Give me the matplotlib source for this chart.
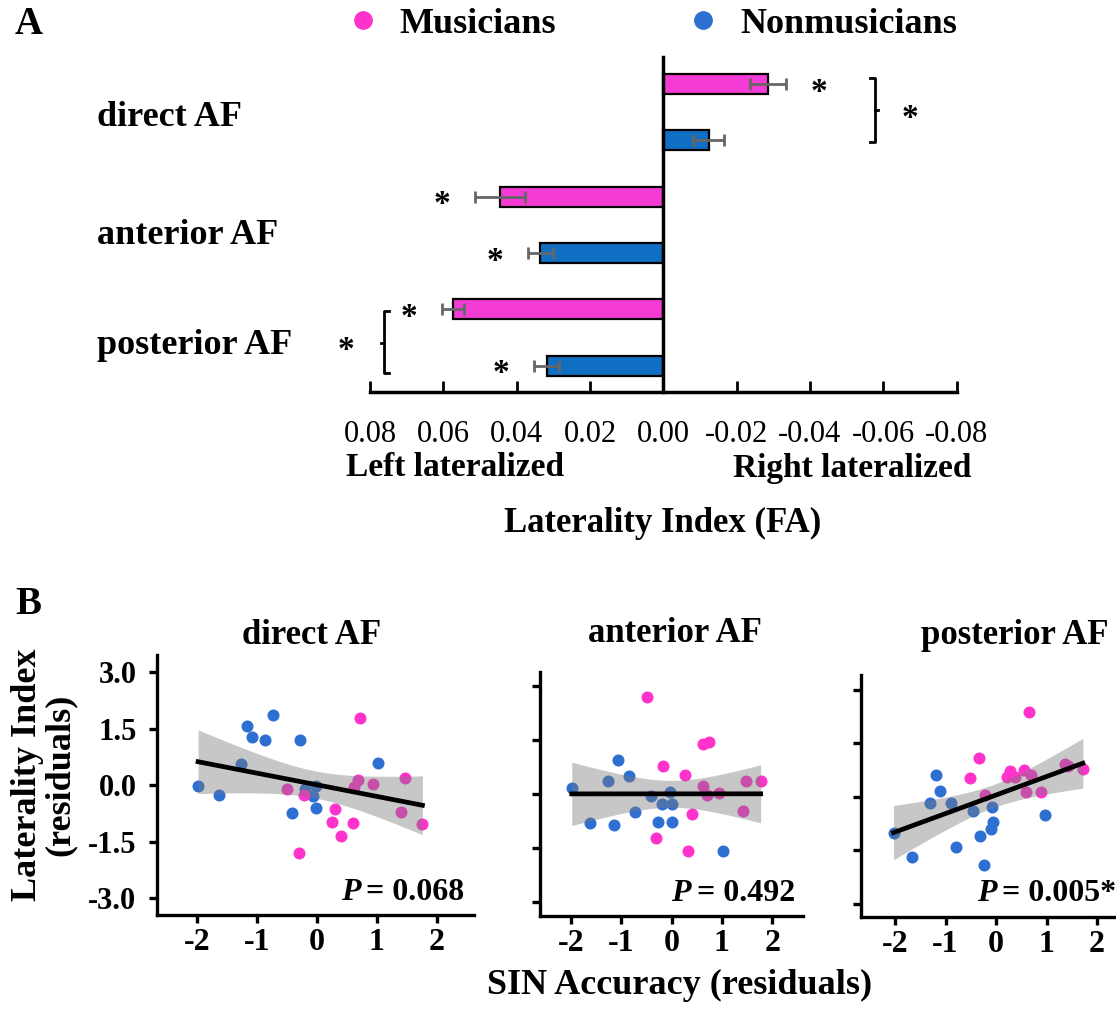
import numpy as np
import matplotlib
matplotlib.use("Agg")
import matplotlib.pyplot as plt
from matplotlib.lines import Line2D

# ---- panel A data (laterality index, FA) ----
regions = ["direct AF", "anterior AF", "posterior AF"]
li_mus = [-0.0286, 0.0445, 0.0573]
li_mus_err = [0.0049, 0.0069, 0.0030]
li_non = [-0.0124, 0.0336, 0.0318]
li_non_err = [0.0042, 0.0034, 0.0034]
sig_mus = [True, True, True]
sig_non = [False, True, True]
li_ticks = [0.08, 0.06, 0.04, 0.02, 0.00, -0.02, -0.04, -0.06, -0.08]

# ---- panel B data (residuals) ----
dir_mus_x = [0.72, -0.49, -0.21, -0.29, 0.31, 0.26, 0.40, 0.61, 0.62, 0.69, 0.94, 1.47, 1.41, 1.76]
dir_mus_y = [1.77, -0.11, -0.26, -1.81, -0.63, -0.97, -1.35, -0.99, -0.04, 0.15, 0.03, 0.18, -0.71, -1.04]
dir_non_x = [-1.98, -1.63, -1.27, -1.16, -1.08, -0.86, -0.73, -0.28, -0.42, -0.19, -0.02, -0.06, -0.02, 1.02]
dir_non_y = [-0.03, -0.25, 0.57, 1.57, 1.28, 1.20, 1.87, 1.21, -0.75, -0.11, -0.03, -0.29, -0.60, 0.59]

ant_mus_x = [-0.48, -0.17, -0.30, 0.27, 0.41, 0.33, 0.63, 0.74, 0.62, 0.71, 0.94, 1.48, 1.42, 1.77]
ant_mus_y = [2.70, 0.78, -1.21, 0.54, -0.56, -1.58, 1.40, 1.45, 0.23, -0.03, 0.02, 0.35, -0.46, 0.37]
ant_non_x = [-1.98, -1.62, -1.14, -1.26, -1.07, -0.85, -0.73, -0.41, -0.27, -0.18, -0.03, 0.00, 0.00, 1.03]
ant_non_y = [0.16, -0.79, -0.86, 0.37, 0.94, 0.50, -0.50, -0.05, -0.78, -0.29, 0.06, -0.27, -0.77, -1.58]

pos_mus_x = [0.65, -0.33, -0.52, -0.22, 0.21, 0.28, 0.38, 0.56, 0.69, 0.59, 0.90, 1.37, 1.43, 1.72]
pos_mus_y = [2.36, 1.09, 0.53, 0.05, 0.56, 0.73, 0.56, 0.75, 0.61, 0.12, 0.12, 0.92, 0.86, 0.77]
pos_non_x = [-2.03, -1.67, -1.19, -1.11, -1.31, -0.90, -0.79, -0.46, -0.31, -0.23, -0.07, -0.05, -0.09, 0.98]
pos_non_y = [-1.01, -1.69, 0.61, 0.16, -0.19, -0.19, -1.42, -0.40, -1.10, -1.91, -0.28, -0.70, -0.90, -0.51]

p_labels = ["= 0.068", "= 0.492", "= 0.005*"]
res_yticks = [3.0, 1.5, 0.0, -1.5, -3.0]
res_xticks = [-2, -1, 0, 1, 2]

MAG = "#F53BD5"
BLU = "#106EC3"
MAG_PT = "#FF33CC"
BLU_PT = "#2E6FD2"

plt.rcParams["font.family"] = ["Liberation Serif", "DejaVu Serif"]
plt.rcParams["font.weight"] = "bold"
plt.rcParams["mathtext.default"] = "regular"

W, H = 1116, 1010
fig = plt.figure(figsize=(W / 100, H / 100), dpi=100)


def box(l, r, t, b):
    return [l / W, 1 - b / H, (r - l) / W, (b - t) / H]


# ================= panel A =================
axA = fig.add_axes(box(370, 956.6, 56.7, 392))
y_mus = np.arange(3) * 2
y_non = y_mus + 1
bh = 0.355
axA.barh(y_mus, li_mus, height=bh, color=MAG, edgecolor="black", linewidth=1.6, zorder=2)
axA.barh(y_non, li_non, height=bh, color=BLU, edgecolor="black", linewidth=1.6, zorder=2)
axA.errorbar(li_mus, y_mus, xerr=li_mus_err, fmt="none", ecolor="#666666",
             elinewidth=2, capsize=4, capthick=2, zorder=3)
axA.errorbar(li_non, y_non, xerr=li_non_err, fmt="none", ecolor="#666666",
             elinewidth=2, capsize=4, capthick=2, zorder=3)
axA.set_xlim(0.08, -0.08)
axA.set_ylim(5.47, -0.485)
for s in ["top", "right"]:
    axA.spines[s].set_visible(False)
axA.spines["left"].set_position(("data", 0))
axA.spines["left"].set_linewidth(2.5)
axA.spines["bottom"].set_linewidth(2.5)
axA.set_yticks([])
axA.set_xticks(li_ticks)
axA.set_xticklabels(["%.2f" % t for t in li_ticks], fontweight="normal")
axA.tick_params(axis="x", direction="in", length=8, width=2, pad=20, labelsize=22)

# significance stars
for vals, errs, ys, sig in [(li_mus, li_mus_err, y_mus, sig_mus),
                            (li_non, li_non_err, y_non, sig_non)]:
    for v, e, y, s in zip(vals, errs, ys, sig):
        if s:
            xs = v + np.sign(v) * (e + 0.009)
            axA.annotate("*", xy=(xs, y), xytext=(0, -6), textcoords="offset points",
                         ha="center", va="center", fontsize=24, annotation_clip=False)

# brackets
bx = -0.0578
axA.plot([bx + 0.0013, bx, bx, bx + 0.0013], [-0.10, -0.10, 1.025, 1.025],
         color="black", lw=2, clip_on=False)
axA.plot([bx, bx - 0.0007], [0.46, 0.46], color="black", lw=2, clip_on=False)
axA.annotate("*", xy=(-0.0673, 0.46), xytext=(0, -6), textcoords="offset points",
             ha="center", va="center", fontsize=24, annotation_clip=False)
px = 0.0762
axA.plot([px - 0.0013, px, px, px - 0.0013], [4.04, 4.04, 5.14, 5.14],
         color="black", lw=2, clip_on=False)
axA.plot([px, px + 0.0007], [4.6, 4.6], color="black", lw=2, clip_on=False)
axA.annotate("*", xy=(0.0866, 4.58), xytext=(0, -6), textcoords="offset points",
             ha="center", va="center", fontsize=24, annotation_clip=False)

# category labels
for lab, yy in zip(regions, [118, 235, 345]):
    fig.text(97 / W, 1 - yy / H, lab, ha="left", va="center", fontsize=26)

fig.text(455 / W, 1 - 468 / H, "Left lateralized", ha="center", va="center", fontsize=24)
fig.text(852 / W, 1 - 468 / H, "Right lateralized", ha="center", va="center", fontsize=24)
fig.text(663 / W, 1 - 523 / H, "Laterality Index (FA)", ha="center", va="center", fontsize=25)

handles = [Line2D([], [], marker="o", ls="", color=MAG_PT, markersize=12.5),
           Line2D([], [], marker="o", ls="", color=BLU_PT, markersize=12.5)]
fig.legend(handles, ["Musicians", "Nonmusicians"], ncol=2, loc="center left",
           bbox_to_anchor=(344.7 / W, 1 - 24 / H), frameon=False, handlelength=1,
           handletextpad=0.515, columnspacing=3.58, borderpad=0, borderaxespad=0,
           prop=dict(size=26, weight="bold"))

fig.text(15 / W, 1 - 25 / H, "A", ha="left", va="center", fontsize=28)
fig.text(15 / W, 1 - 605 / H, "B", ha="left", va="center", fontsize=28)

# ================= panel B =================
panels = [
    ("direct AF", dir_mus_x, dir_mus_y, dir_non_x, dir_non_y,
     box(157.3, 474, 655, 915), (-2.66, 2.62), (-3.44, 3.45), (312, 635), (0.41, -2.85)),
    ("anterior AF", ant_mus_x, ant_mus_y, ant_non_x, ant_non_y,
     box(540, 802.5, 671.7, 916), (-2.61, 2.60), (-3.38, 3.39), (675, 633), (0.0, -2.75)),
    ("posterior AF", pos_mus_x, pos_mus_y, pos_non_x, pos_non_y,
     box(860.7, 1128.3, 675, 917.3), (-2.68, 2.62), (-3.38, 3.41), (1015, 635), (-0.38, -2.70)),
]

T_CRIT = 2.056  # t(0.975, df=26)

for i, (title, mx, my, nx, ny, rect, xl, yl, tpos, ppos) in enumerate(panels):
    ax = fig.add_axes(rect)
    ax.scatter(nx, ny, s=75, color=BLU_PT, linewidths=0, zorder=1)
    ax.scatter(mx, my, s=75, color=MAG_PT, linewidths=0, zorder=1)

    x = np.array(nx + mx)
    y = np.array(ny + my)
    n = len(x)
    b1, b0 = np.polyfit(x, y, 1)
    xs = np.linspace(x.min(), x.max(), 100)
    yhat = b0 + b1 * xs
    resid = y - (b0 + b1 * x)
    se = np.sqrt(np.sum(resid ** 2) / (n - 2))
    sxx = np.sum((x - x.mean()) ** 2)
    half = T_CRIT * se * np.sqrt(1 / n + (xs - x.mean()) ** 2 / sxx)
    ax.fill_between(xs, yhat - half, yhat + half, color="#797979", alpha=0.41,
                    linewidth=0, zorder=2)
    ax.plot(xs, yhat, color="black", lw=3.4, zorder=3)

    ax.set_xlim(*xl)
    ax.set_ylim(*yl)
    for s in ["top", "right"]:
        ax.spines[s].set_visible(False)
    for s in ["left", "bottom"]:
        ax.spines[s].set_linewidth(2.4)
    ax.set_xticks(res_xticks)
    ax.set_xticklabels([str(t) for t in res_xticks])
    ax.set_yticks(res_yticks)
    ax.set_yticklabels(["%.1f" % t for t in res_yticks])
    ax.tick_params(axis="both", direction="out", length=6, width=2.4, labelsize=23)
    ax.tick_params(axis="y", pad=9, labelleft=(i == 0), labelsize=22)

    fig.text(tpos[0] / W, 1 - tpos[1] / H, title, ha="center", va="center", fontsize=25)
    pt = ax.text(ppos[0], ppos[1], "P", ha="left", va="center", fontsize=23, fontstyle="italic")
    ax.annotate(p_labels[i], xy=(1, 0), xycoords=pt, xytext=(4, 0), textcoords="offset points",
                ha="left", va="bottom", fontsize=23)

fig.text(44 / W, 1 - 775 / H, "Laterality Index\n(residuals)", rotation=90, ha="center",
         va="center", fontsize=26, linespacing=1.0)
fig.text(680 / W, 1 - 985 / H, "SIN Accuracy (residuals)", ha="center", va="center", fontsize=26)

fig.savefig("out.png", dpi=100)
